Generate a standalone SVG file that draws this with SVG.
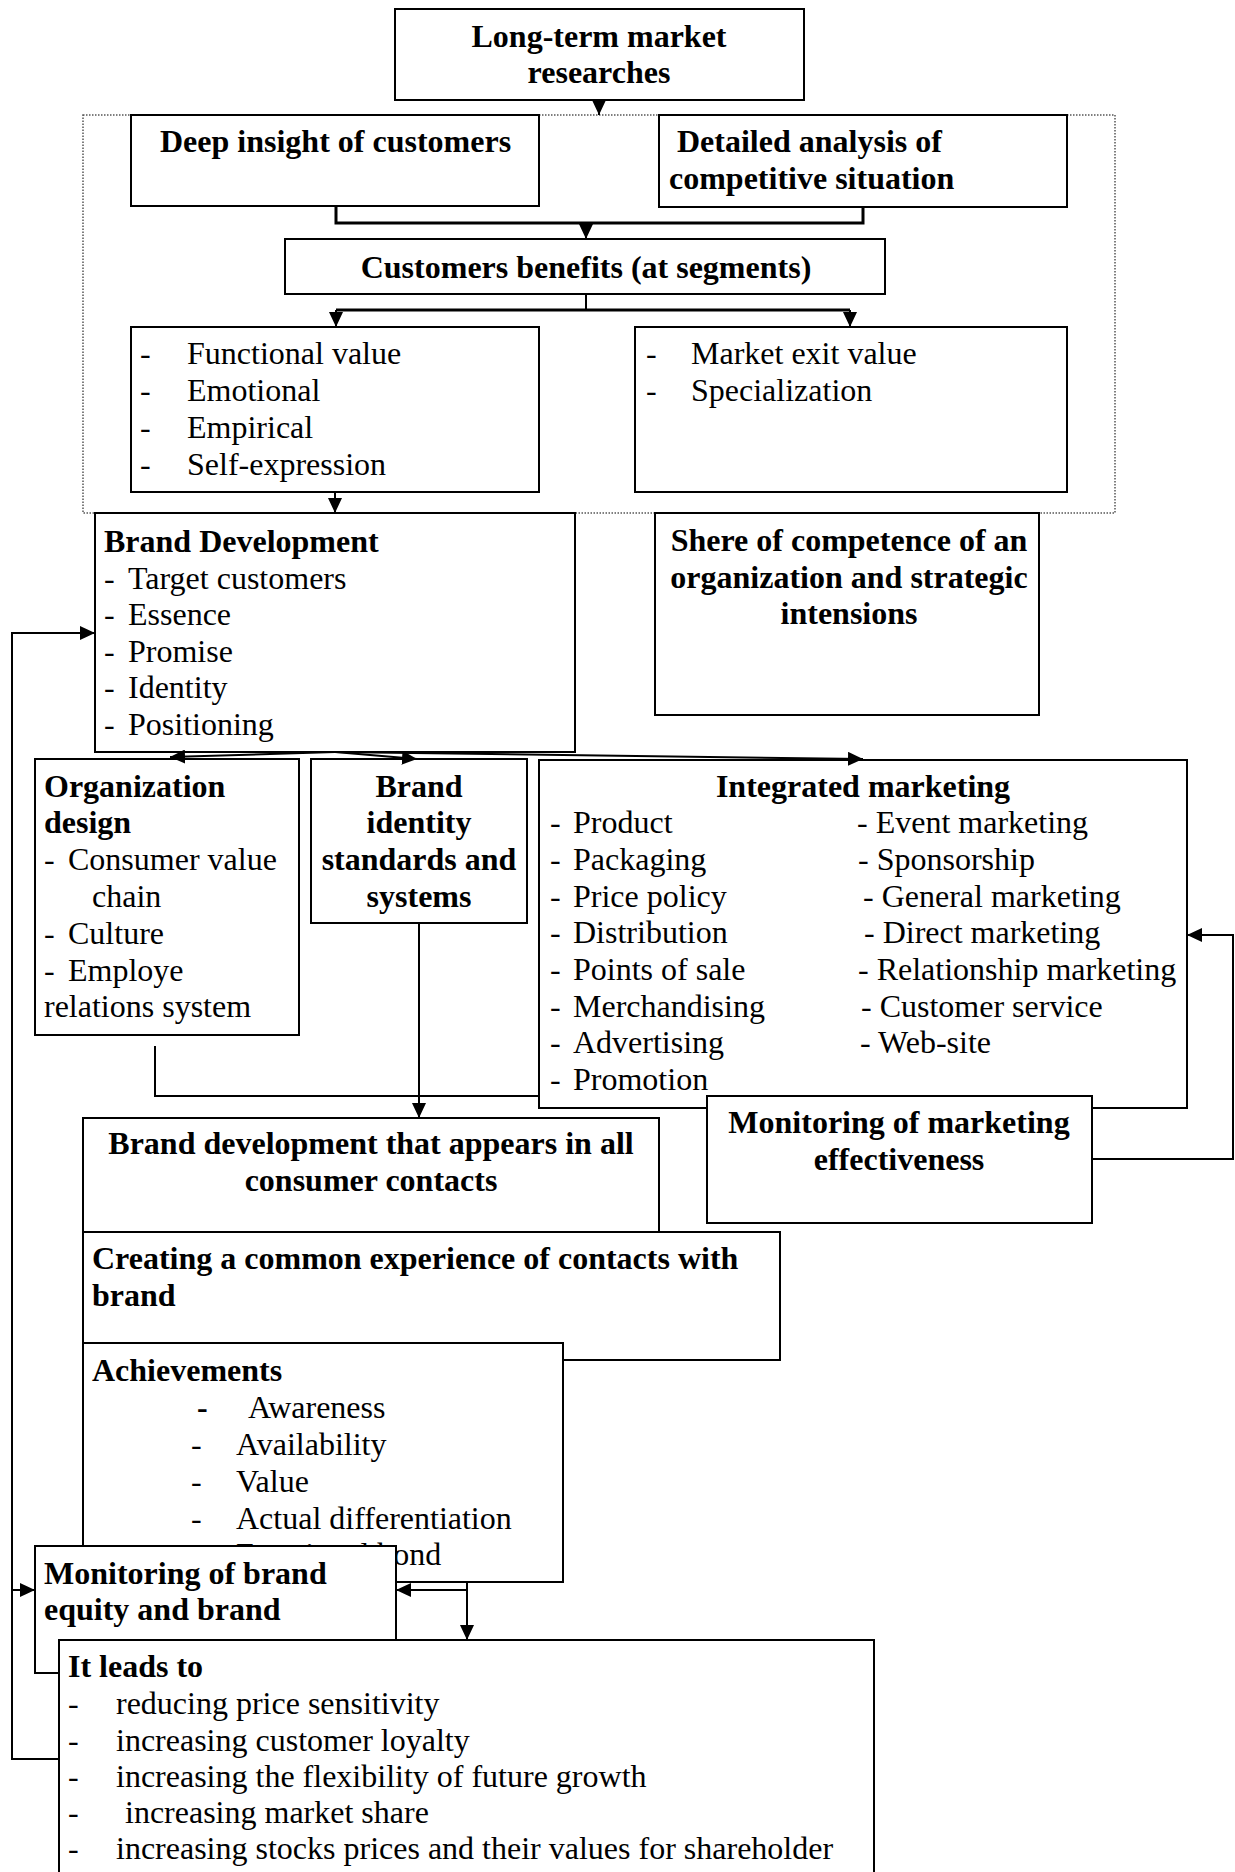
<svg xmlns="http://www.w3.org/2000/svg" width="1235" height="1872" viewBox="0 0 1235 1872">
  <style>
    .box { fill: #fff; stroke: #000; stroke-width: 2; }
    .group { fill: none; stroke: #555; stroke-width: 1.5; stroke-dasharray: 1.5 1.5; }
    .t { font-family: 'Liberation Serif', 'Times New Roman', serif; font-size: 32px; fill: #000; }
    .b { font-weight: bold; }
    .c { text-anchor: middle; }
    .ln { fill: none; stroke: #000; stroke-width: 2; }
    .thick { stroke-width: 3; }
  </style>
  <defs>
    <marker id="ah" markerWidth="15" markerHeight="14" refX="15" refY="7" orient="auto" markerUnits="userSpaceOnUse">
      <path d="M0,0 L15,7 L0,14 z" fill="#000"/>
    </marker>
  </defs>
  <rect width="1235" height="1872" fill="#fff"/>

  <!-- research block frame -->
  <rect class="group" x="83" y="115" width="1032" height="398"/>

  <g id="long-term-research">
    <rect class="box" x="395" y="9" width="409" height="91"/>
    <text class="t b c" x="599" y="47">Long-term market</text>
    <text class="t b c" x="599" y="83">researches</text>
  </g>

  <g id="customer-insight">
    <rect class="box" x="131" y="115" width="408" height="91"/>
    <text class="t b" x="160" y="152">Deep insight of customers</text>
  </g>

  <g id="competitive-analysis">
    <rect class="box" x="659" y="115" width="408" height="92"/>
    <text class="t b" x="677" y="152">Detailed analysis of</text>
    <text class="t b" x="669" y="189">competitive situation</text>
  </g>

  <g id="customer-benefits">
    <rect class="box" x="285" y="239" width="600" height="55"/>
    <text class="t b c" x="586" y="278">Customers benefits (at segments)</text>
  </g>

  <g id="benefit-values">
    <rect class="box" x="131" y="327" width="408" height="165"/>
    <text class="t" x="140" y="364">-</text><text class="t" x="187" y="364">Functional value</text>
    <text class="t" x="140" y="401">-</text><text class="t" x="187" y="401">Emotional</text>
    <text class="t" x="140" y="438">-</text><text class="t" x="187" y="438">Empirical</text>
    <text class="t" x="140" y="475">-</text><text class="t" x="187" y="475">Self-expression</text>
  </g>

  <g id="benefit-market">
    <rect class="box" x="635" y="327" width="432" height="165"/>
    <text class="t" x="646" y="364">-</text><text class="t" x="691" y="364">Market exit value</text>
    <text class="t" x="646" y="401">-</text><text class="t" x="691" y="401">Specialization</text>
  </g>

  <g id="brand-development">
    <rect class="box" x="95" y="513" width="480" height="239"/>
    <text class="t b" x="104" y="552">Brand Development</text>
    <text class="t" x="104" y="589">-</text><text class="t" x="128" y="589">Target customers</text>
    <text class="t" x="104" y="625">-</text><text class="t" x="128" y="625">Essence</text>
    <text class="t" x="104" y="662">-</text><text class="t" x="128" y="662">Promise</text>
    <text class="t" x="104" y="698">-</text><text class="t" x="128" y="698">Identity</text>
    <text class="t" x="104" y="735">-</text><text class="t" x="128" y="735">Positioning</text>
  </g>

  <g id="competence-share">
    <rect class="box" x="655" y="513" width="384" height="202"/>
    <text class="t b c" x="849" y="551">Shere of competence of an</text>
    <text class="t b c" x="849" y="588">organization and strategic</text>
    <text class="t b c" x="849" y="624">intensions</text>
  </g>

  <g id="organization-design">
    <rect class="box" x="35" y="759" width="264" height="276"/>
    <text class="t b" x="44" y="797">Organization</text>
    <text class="t b" x="44" y="833">design</text>
    <text class="t" x="44" y="870">-</text><text class="t" x="68" y="870">Consumer value</text>
    <text class="t" x="92" y="907">chain</text>
    <text class="t" x="44" y="944">-</text><text class="t" x="68" y="944">Culture</text>
    <text class="t" x="44" y="981">-</text><text class="t" x="68" y="981">Employe</text>
    <text class="t" x="44" y="1017">relations system</text>
  </g>

  <g id="identity-standards">
    <rect class="box" x="311" y="759" width="216" height="164"/>
    <text class="t b c" x="419" y="797">Brand</text>
    <text class="t b c" x="419" y="833">identity</text>
    <text class="t b c" x="419" y="870">standards and</text>
    <text class="t b c" x="419" y="907">systems</text>
  </g>

  <g id="integrated-marketing">
    <rect class="box" x="539" y="760" width="648" height="348"/>
    <text class="t b c" x="863" y="797">Integrated marketing</text>
    <text class="t" x="550" y="833">-</text><text class="t" x="573" y="833">Product</text>
    <text class="t" x="550" y="870">-</text><text class="t" x="573" y="870">Packaging</text>
    <text class="t" x="550" y="907">-</text><text class="t" x="573" y="907">Price policy</text>
    <text class="t" x="550" y="943">-</text><text class="t" x="573" y="943">Distribution</text>
    <text class="t" x="550" y="980">-</text><text class="t" x="573" y="980">Points of sale</text>
    <text class="t" x="550" y="1017">-</text><text class="t" x="573" y="1017">Merchandising</text>
    <text class="t" x="550" y="1053">-</text><text class="t" x="573" y="1053">Advertising</text>
    <text class="t" x="550" y="1090">-</text><text class="t" x="573" y="1090">Promotion</text>
    <text class="t" x="857" y="833">- Event marketing</text>
    <text class="t" x="858" y="870">- Sponsorship</text>
    <text class="t" x="863" y="907">- General marketing</text>
    <text class="t" x="864" y="943">- Direct marketing</text>
    <text class="t" x="858" y="980">- Relationship marketing</text>
    <text class="t" x="861" y="1017">- Customer service</text>
    <text class="t" x="860" y="1053">- Web-site</text>
  </g>

  <g id="marketing-monitoring">
    <rect class="box" x="707" y="1096" width="385" height="127"/>
    <text class="t b c" x="899" y="1133">Monitoring of marketing</text>
    <text class="t b c" x="899" y="1170">effectiveness</text>
  </g>

  <g id="consumer-contacts">
    <rect class="box" x="83" y="1118" width="576" height="114"/>
    <text class="t b c" x="371" y="1154">Brand development that appears in all</text>
    <text class="t b c" x="371" y="1191">consumer contacts</text>
  </g>

  <g id="common-experience">
    <rect class="box" x="83" y="1232" width="697" height="128"/>
    <text class="t b" x="92" y="1269">Creating a common experience of contacts with</text>
    <text class="t b" x="92" y="1306">brand</text>
  </g>

  <g id="achievements">
    <rect class="box" x="83" y="1343" width="480" height="239"/>
    <text class="t b" x="92" y="1381">Achievements</text>
    <text class="t b" x="197" y="1418">-</text><text class="t" x="248" y="1418">Awareness</text>
    <text class="t" x="191" y="1455">-</text><text class="t" x="236" y="1455">Availability</text>
    <text class="t" x="191" y="1492">-</text><text class="t" x="236" y="1492">Value</text>
    <text class="t" x="191" y="1529">-</text><text class="t" x="236" y="1529">Actual differentiation</text>
    <!-- last item runs under the equity-monitoring box -->
    <text class="t" x="236" y="1565">Emotional bond</text>
  </g>

  <g id="brand-equity-monitoring">
    <rect class="box" x="35" y="1546" width="361" height="127"/>
    <text class="t b" x="44" y="1584">Monitoring of brand</text>
    <text class="t b" x="44" y="1620">equity and brand</text>
  </g>

  <g id="outcomes">
    <rect class="box" x="59" y="1640" width="815" height="245"/>
    <text class="t b" x="68" y="1677">It leads to</text>
    <text class="t" x="68" y="1714">-</text><text class="t" x="116" y="1714">reducing price sensitivity</text>
    <text class="t" x="68" y="1751">-</text><text class="t" x="116" y="1751">increasing customer loyalty</text>
    <text class="t" x="68" y="1787">-</text><text class="t" x="116" y="1787">increasing the flexibility of future growth</text>
    <text class="t" x="68" y="1823">-</text><text class="t" x="125" y="1823">increasing market share</text>
    <text class="t" x="68" y="1859">-</text><text class="t" x="116" y="1859">increasing stocks prices and their values for shareholder</text>
  </g>

  <g id="connectors">
    <line class="ln" x1="599" y1="100" x2="599" y2="115" marker-end="url(#ah)"/>
    <polyline class="ln thick" points="336,206 336,223 863,223 863,207"/>
    <line class="ln" x1="586" y1="223" x2="586" y2="239" marker-end="url(#ah)"/>
    <line class="ln" x1="586" y1="294" x2="586" y2="310"/>
    <line class="ln thick" x1="336" y1="310" x2="850" y2="310"/>
    <line class="ln" x1="336" y1="310" x2="336" y2="327" marker-end="url(#ah)"/>
    <line class="ln" x1="850" y1="310" x2="850" y2="327" marker-end="url(#ah)"/>
    <line class="ln" x1="335" y1="492" x2="335" y2="513" marker-end="url(#ah)"/>
    <line class="ln" x1="335" y1="752" x2="170" y2="757" marker-end="url(#ah)"/>
    <line class="ln" x1="335" y1="752" x2="417" y2="759" marker-end="url(#ah)"/>
    <line class="ln" x1="335" y1="752" x2="863" y2="759" marker-end="url(#ah)"/>
    <line class="ln" x1="419" y1="923" x2="419" y2="1118" marker-end="url(#ah)"/>
    <polyline class="ln" points="155,1046 155,1096 538,1096"/>
    <polyline class="ln" points="1092,1159 1233,1159 1233,935 1187,935" marker-end="url(#ah)"/>
    <polyline class="ln" points="59,1759 12,1759 12,633 95,633" marker-end="url(#ah)"/>
    <line class="ln" x1="12" y1="1590" x2="35" y2="1590" marker-end="url(#ah)"/>
    <line class="ln" x1="467" y1="1582" x2="467" y2="1640" marker-end="url(#ah)"/>
    <line class="ln" x1="467" y1="1590" x2="396" y2="1590" marker-end="url(#ah)"/>
  </g>
</svg>
